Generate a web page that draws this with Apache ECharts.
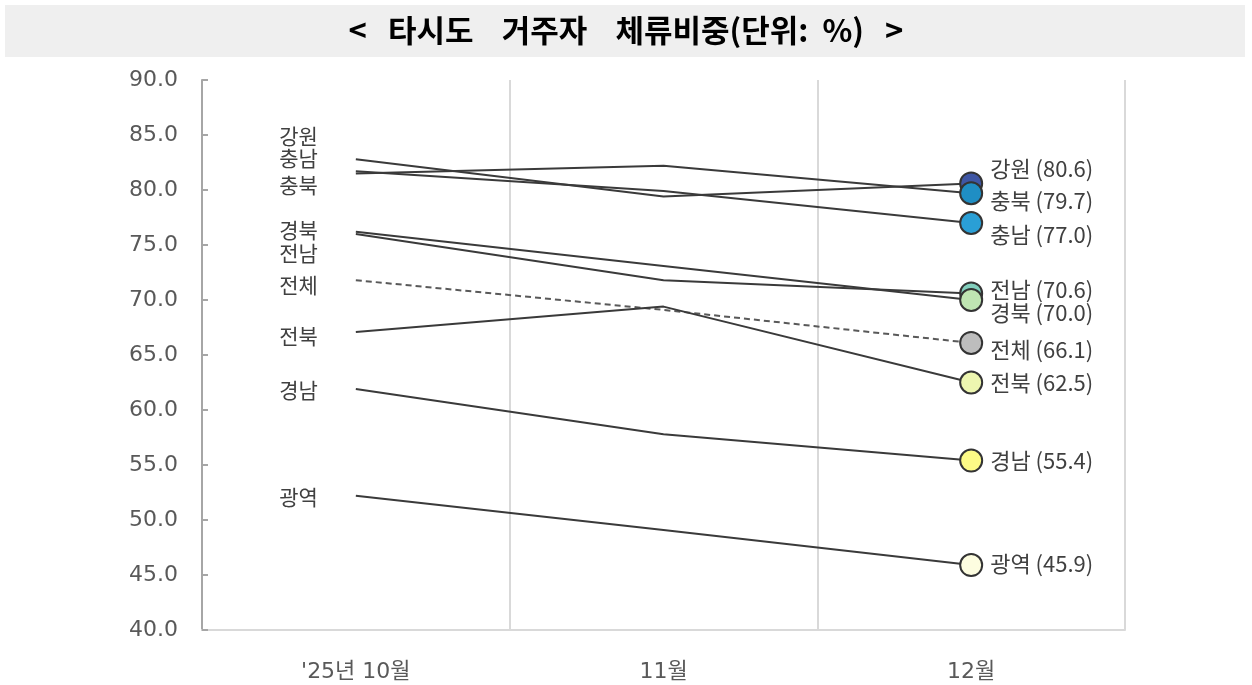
<!DOCTYPE html>
<html>
<head>
<meta charset="utf-8">
<script src="https://cdn.jsdelivr.net/npm/echarts@6/dist/echarts.min.js"></script>
<style>
html,body{margin:0;padding:0;background:#fff;}
#chart{width:1252px;height:685px;}
</style>
</head>
<body>
<div id="chart"></div>
<script>
// 데이터
var months = ["'25년 10월", '11월', '12월'];
var regions = ['강원', '충남', '충북', '전남', '경북', '전체', '전북', '경남', '광역'];
var gangwon  = [82.8, 79.4, 80.6];
var chungnam = [81.7, 79.9, 77.0];
var chungbuk = [81.5, 82.2, 79.7];
var jeonnam  = [76.0, 71.8, 70.6];
var gyeongbuk= [76.2, 73.1, 70.0];
var total    = [71.8, 69.1, 66.1];
var jeonbuk  = [67.1, 69.4, 62.5];
var gyeongnam= [61.9, 57.8, 55.4];
var gwangyeok= [52.2, 49.1, 45.9];
var yTicks = [40, 90, 5];

var values = [gangwon, chungnam, chungbuk, jeonnam, gyeongbuk, total, jeonbuk, gyeongnam, gwangyeok];

// 끝점 원 색상
var dotColors = ['#3f56a4', '#2a9fd6', '#1f8ec4', '#82cfbd', '#bfe5b2', '#bdbdbd', '#edf6b0', '#fdfb86', '#fdfde0'];
// 라벨 겹침 방지용 위치 보정 (px)
var leftNudge  = [-23, -13, 12, 19, -2, 5, 4, 1, 1];
var rightNudge = [-15, 12, 7, -4, 13, 7, 0, 0, -1];

var cjkFam = '"Noto Sans CJK KR", sans-serif';
var numFam = '"DejaVu Sans", "Noto Sans CJK KR", sans-serif';

var series = regions.map(function (name, i) {
    var v = values[i];
    return {
        name: name,
        type: 'line',
        symbol: 'circle',
        z: 2 + i,
        lineStyle: {
            color: name === '전체' ? '#595959' : '#3a3a3a',
            width: 2,
            type: name === '전체' ? [6, 4] : 'solid'
        },
        itemStyle: {color: dotColors[i], borderColor: '#333', borderWidth: 2},
        emphasis: {disabled: true},
        data: [
            {
                value: v[0], symbolSize: 0,
                label: {
                    show: true, position: 'left', distance: 38,
                    offset: [0, leftNudge[i]],
                    formatter: name,
                    color: '#404040', fontSize: 21, fontFamily: cjkFam
                }
            },
            {value: v[1], symbolSize: 0},
            {
                value: v[2], symbolSize: 22,
                label: {
                    show: true, position: 'right', distance: 7,
                    offset: [0, rightNudge[i]],
                    formatter: name + ' (' + v[2].toFixed(1) + ')',
                    color: '#404040', fontSize: 22, fontFamily: cjkFam
                }
            }
        ]
    };
});

var chart = echarts.init(document.getElementById('chart'));
chart.setOption({
    animation: false,
    backgroundColor: '#fff',
    graphic: [{
        type: 'rect',
        shape: {x: 5, y: 5, width: 1240, height: 52},
        style: {fill: '#efefef'},
        z: -10
    }],
    title: {
        text: '<   타시도    거주자    체류비중(단위:  %)   >',
        left: 'center',
        top: 10,
        textStyle: {fontSize: 31, fontWeight: 'bold', color: '#000', fontFamily: cjkFam}
    },
    grid: {left: 202, right: 127, top: 80, bottom: 55, containLabel: false},
    xAxis: {
        type: 'category',
        data: months,
        boundaryGap: true,
        axisLine: {lineStyle: {color: '#d9d9d9', width: 2}},
        axisTick: {show: false},
        axisLabel: {color: '#595959', fontSize: 22, margin: 31, fontFamily: numFam},
        splitLine: {show: true, showMinLine: false, lineStyle: {color: '#d9d9d9', width: 2}}
    },
    yAxis: {
        type: 'value',
        min: yTicks[0],
        max: yTicks[1],
        interval: yTicks[2],
        axisLine: {show: true, lineStyle: {color: '#a6a6a6', width: 2}},
        axisTick: {show: true, inside: true, length: 6, lineStyle: {color: '#a6a6a6', width: 2}},
        axisLabel: {
            color: '#595959', fontSize: 22, margin: 24, fontFamily: numFam,
            formatter: function (v) { return v.toFixed(1); }
        },
        splitLine: {show: false}
    },
    series: series
});
</script>
</body>
</html>
